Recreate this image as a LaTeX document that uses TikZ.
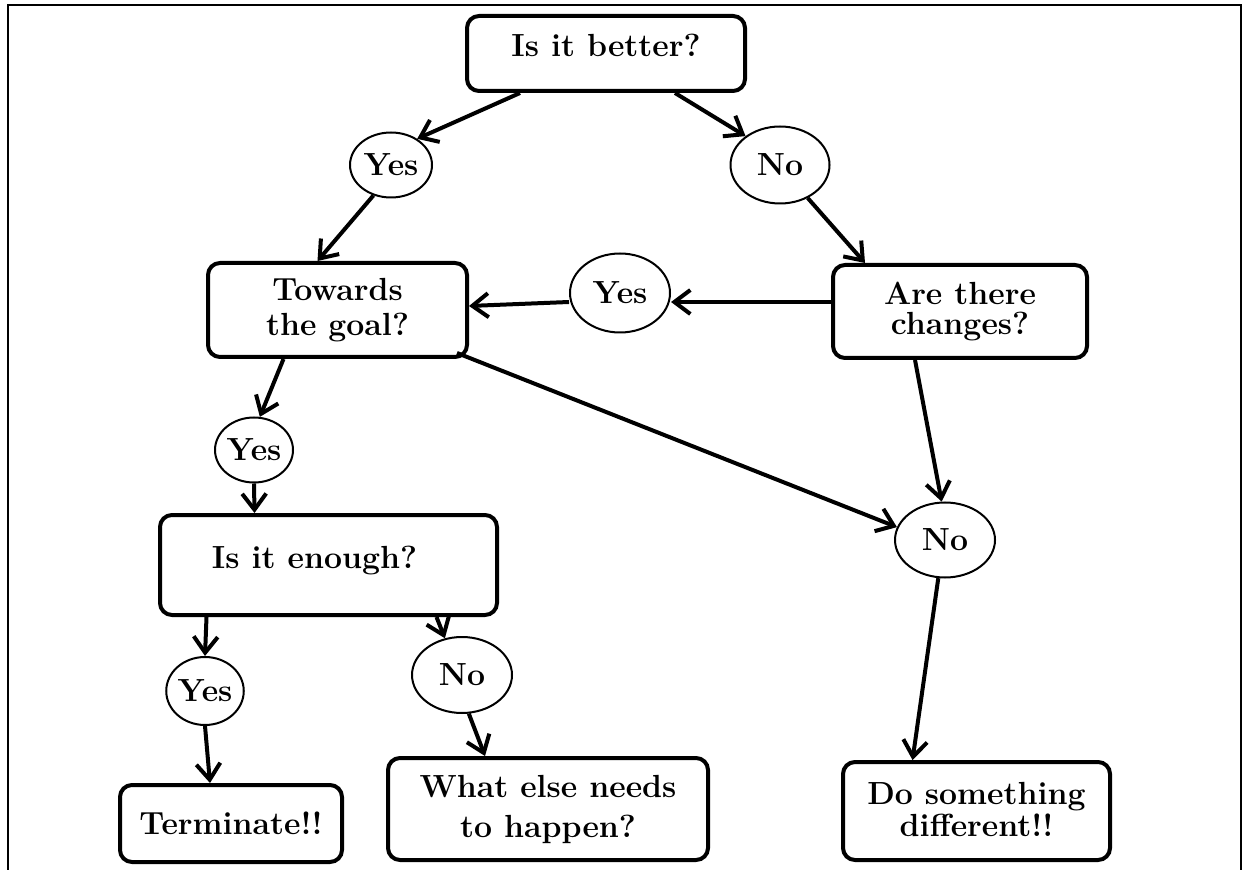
\documentclass[tikz,border=0pt]{standalone}
\usetikzlibrary{shapes.geometric,arrows.meta}
\begin{document}
\begin{tikzpicture}[x=0.5pt,y=-0.5pt,
  every node/.style={font=\fontsize{16}{19}\selectfont\bfseries},
  qbox/.style={draw, line width=2pt, rounded corners=6pt, align=center, inner sep=0pt},
  oval/.style={draw, ellipse, line width=1pt, inner sep=0pt},
  conn/.style={line width=2pt, -{Straight Barb[length=8pt,width=12pt]}}]
\useasboundingbox (0,0) rectangle (1245,870);
\draw[line width=1.2pt] (8,870) -- (8,5) -- (1241,5) -- (1241,870);

% boxes
\node[qbox, minimum width=139pt, minimum height=37.5pt, text depth=8.5pt] (better) at (606,53.5) {Is it better?};
\node[qbox, minimum width=129.5pt, minimum height=47pt, font=\fontsize{16}{17.5}\selectfont\bfseries] (towards) at (337.5,310) {Towards\\the goal?};
\node[qbox, minimum width=127pt, minimum height=46.5pt, font=\fontsize{16}{15}\selectfont\bfseries] (arethere) at (960,311.5) {Are there\\changes?};
\node[qbox, minimum width=168.5pt, minimum height=50pt, text depth=8pt] (enough) at (328.5,565) {Is it enough?\hspace*{14pt}};
\node[qbox, minimum width=111pt, minimum height=38.5pt] (terminate) at (231,823.5) {Terminate!!};
\node[qbox, minimum width=160pt, minimum height=51pt, font=\fontsize{16}{20}\selectfont\bfseries] (whatelse) at (548,809) {What else needs\\to happen?};
\node[qbox, minimum width=133.5pt, minimum height=49pt, font=\fontsize{16}{16}\selectfont\bfseries] (dosomething) at (976.5,811) {\\[-6pt]Do something\\different!!};

% ovals
\node[oval, minimum width=41pt, minimum height=32.5pt] (yes1) at (391,165) {Yes};
\node[oval, minimum width=49.5pt, minimum height=38.5pt] (no1) at (780,165) {No};
\node[oval, minimum width=50pt, minimum height=39.5pt] (yes2) at (620,293) {Yes};
\node[oval, minimum width=39pt, minimum height=32.5pt] (yes3) at (254,450) {Yes};
\node[oval, minimum width=50pt, minimum height=37.5pt] (no2) at (945,540) {No};
\node[oval, minimum width=38pt, minimum height=34pt] (yes4) at (205,691) {Yes};
\node[oval, minimum width=50pt, minimum height=38pt] (no3) at (462,675) {No};

% connectors
\draw[conn] ([xshift=-43pt]better.south) -- (yes1.45);
\draw[conn] ([xshift=34.5pt]better.south) -- (no1.140);
\draw[conn] (yes1.240) -- ([xshift=-10pt]towards.north);
\draw[conn] (no1.-50) -- ([xshift=-47.5pt]arethere.north);
\draw[conn] ([yshift=4.75pt]arethere.west) -- ([yshift=-4.5pt]yes2.east);
\draw[conn] ([yshift=-4.5pt]yes2.west) -- ([yshift=2pt]towards.east);
\draw[conn] ([xshift=-6pt,yshift=3pt]towards.south east) -- (no2.165);
\draw[conn] ([xshift=-22.5pt]arethere.south) -- (no2.95);
\draw[conn] ([xshift=-27pt]towards.south) -- (yes3.80);
\draw[conn] (yes3.south) -- ([xshift=-37pt]enough.north);
\draw[conn] ([xshift=-61pt]enough.south) -- (yes4.north);
\draw[conn] (yes4.south) -- ([xshift=-10.5pt]terminate.north);
\draw[conn] ([xshift=54pt]enough.south) -- (no3.115);
\draw[conn] (no3.-80) -- ([xshift=-31.5pt]whatelse.north);
\draw[conn] (no2.-100) -- ([xshift=-32pt]dosomething.north);
\end{tikzpicture}
\end{document}
